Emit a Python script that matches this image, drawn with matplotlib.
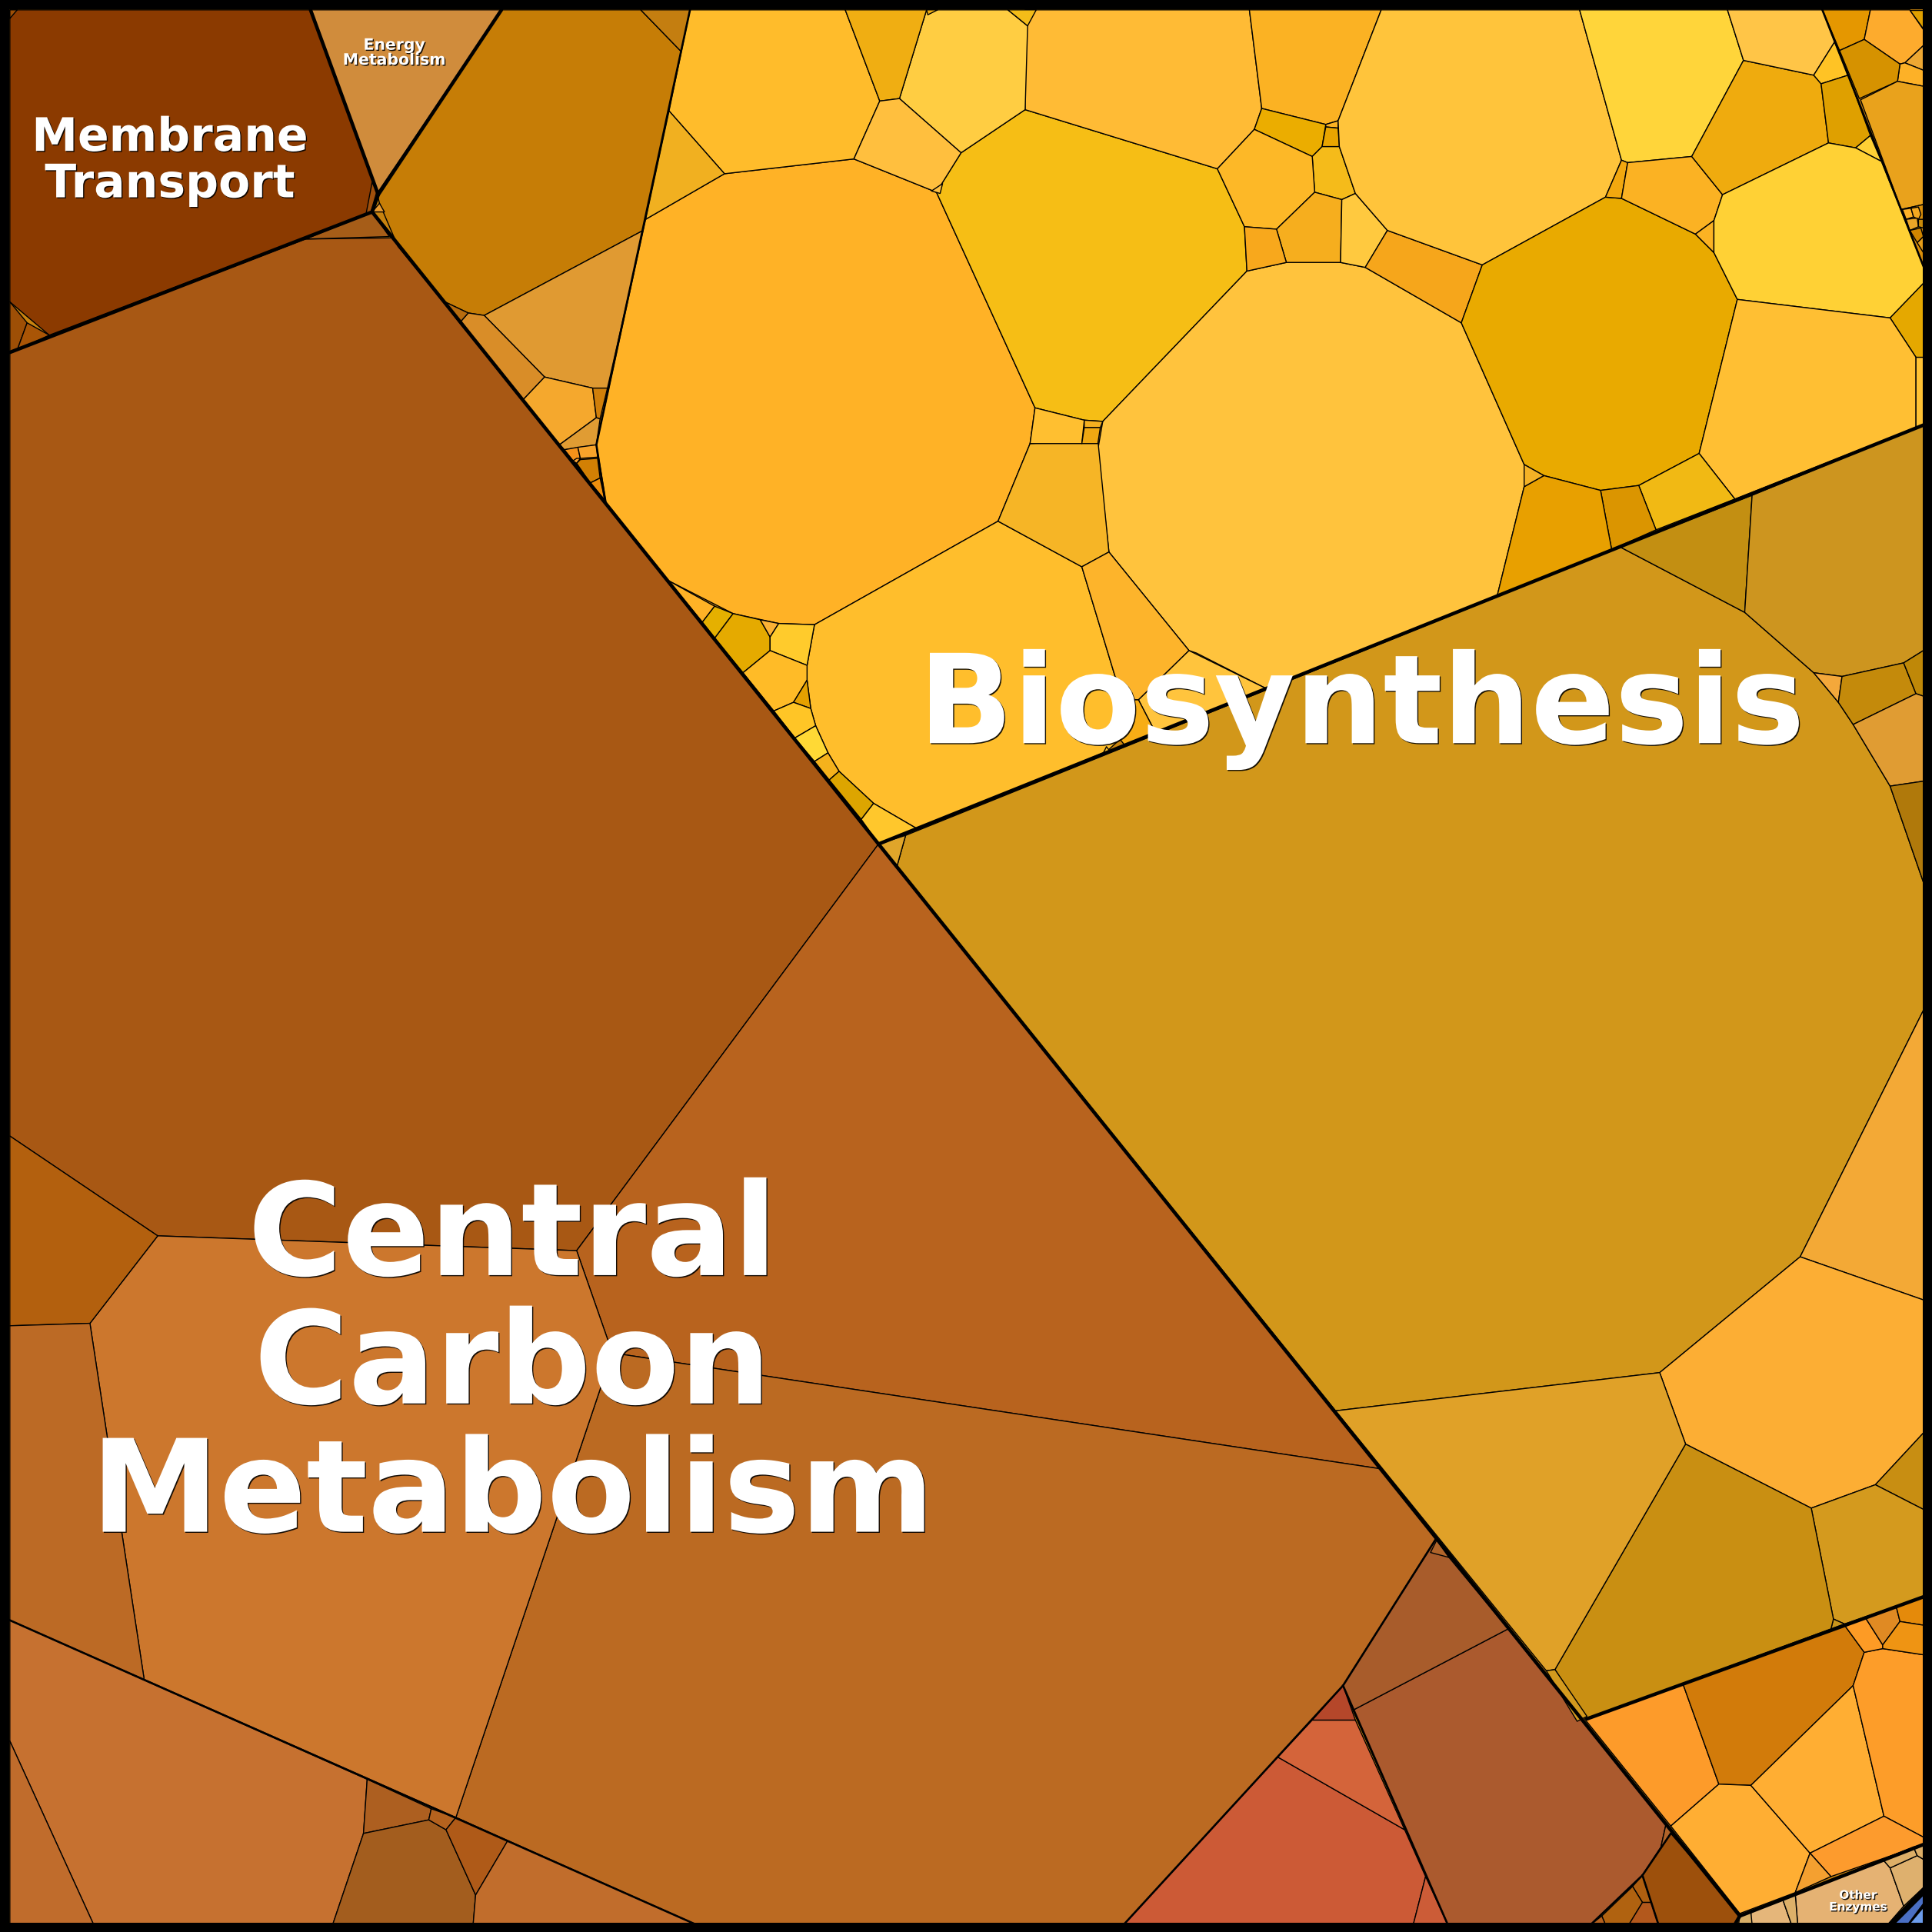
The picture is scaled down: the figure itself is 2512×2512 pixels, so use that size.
import matplotlib
matplotlib.use("Agg")
import matplotlib.pyplot as plt
import matplotlib.patheffects as pe
from matplotlib.patches import Rectangle

# cell outlines of the voronoi treemap (1568 unit square)
membrane_cells = [
    [(8,8),(252,8),(307,158),(302,172),(40,272),(8,245)],
    [(8,245),(22,262),(14,284),(8,286)],
    [(22,262),(40,272),(14,284)],
    [(302,148),(306,155),(301,172),(297,174)],
    [(8,8),(14,8),(8,15)],
]
membrane_colors = ["#8B3A00", "#9E4F06", "#A95506", "#A0500C", "#9E4F06"]

energy_cells = [[(252,8),(407,8),(307,158)]]
energy_colors = ["#D08C3C"]

central_cells = [
    [(8,286),(248,194),(322,193),(713,685),(468,1015),(128,1003),(8,922)],
    [(248,194),(302,172),(316,192)],
    [(713,685),(1120,1192),(497,1098),(468,1015)],
    [(497,1098),(1120,1192),(1166,1248),(1090,1368),(912,1562),(565,1562),(370,1475)],
    [(128,1003),(468,1015),(497,1098),(370,1475),(117,1363),(73,1074)],
    [(8,922),(128,1003),(73,1074),(8,1076)],
    [(8,1076),(73,1074),(117,1363),(8,1315)],
    [(8,1315),(298,1444),(295,1488),(270,1562),(76,1562),(8,1413)],
    [(8,1413),(76,1562),(8,1562)],
    [(298,1444),(350,1468),(348,1477),(295,1488)],
    [(295,1488),(348,1477),(362,1485),(386,1538),(384,1562),(270,1562)],
    [(350,1468),(370,1475),(362,1485),(348,1477)],
    [(370,1475),(412,1494),(386,1538),(362,1485)],
    [(412,1494),(565,1562),(384,1562),(386,1538)],
]
central_colors = ["#A85814", "#A65D18", "#B8631E", "#BB6A22", "#CC772D", "#B3600E", "#BC6A25",
                  "#C67130", "#C06C2C", "#AD5F20", "#A35D1E", "#B5621E", "#AF5A18", "#C16D2C"]

red_cells = [
    [(1037,1426),(1140,1485),(1157,1523),(1147,1562),(912,1562)],
    [(1065,1396),(1100,1396),(1140,1485),(1037,1426)],
    [(1090,1368),(1100,1396),(1065,1396)],
    [(1157,1523),(1175,1562),(1147,1562)],
    [(1098,1388),(1224,1322),(1352,1481),(1348,1499),(1333,1522),(1291,1562),(1175,1562)],
    [(1166,1248),(1176,1264),(1224,1322),(1098,1388),(1090,1368)],
    [(1166,1250),(1176,1264),(1161,1260)],
    [(1352,1481),(1358,1488),(1348,1499)],
    [(1356,1488),(1412,1553),(1409,1562),(1346,1562),(1333,1522)],
    [(1325,1531),(1333,1522),(1340,1544),(1333,1544)],
    [(1300,1555),(1325,1531),(1333,1544),(1322,1562),(1303,1562)],
    [(1333,1544),(1340,1544),(1346,1562),(1322,1562)],
    [(1291,1562),(1300,1555),(1303,1562)],
]
red_colors = ["#CC5A36", "#D4643A", "#B5472A", "#CC5C37", "#AB5A2E", "#A85C2B", "#B0642A", "#B0642A",
              "#9D500C", "#B05F10", "#B06210", "#B3581C", "#B3601E"]

orange_cells = [
    [(1286,1395),(1366,1367),(1395,1448),(1356,1482)],
    [(1366,1367),(1497,1319),(1513,1341),(1504,1368),(1421,1449),(1395,1448)],
    [(1395,1448),(1421,1449),(1469,1504),(1457,1536),(1412,1553),(1356,1482)],
    [(1421,1449),(1504,1368),(1529,1474),(1469,1504)],
    [(1504,1368),(1513,1341),(1528,1338),(1561,1343),(1561,1491),(1529,1474)],
    [(1469,1504),(1529,1474),(1561,1491),(1561,1497),(1486,1523)],
    [(1469,1504),(1486,1523),(1457,1536)],
    [(1497,1319),(1514,1313),(1528,1335),(1528,1338),(1513,1341)],
    [(1514,1313),(1539,1304),(1542,1316),(1528,1335)],
    [(1539,1304),(1561,1296),(1561,1319),(1542,1316)],
    [(1542,1316),(1561,1319),(1561,1343),(1528,1338),(1528,1335)],
]
orange_colors = ["#FD9B2A", "#D27B0A", "#FFAE33", "#FFAE33", "#FD9D29", "#FD9B2D", "#F4A030",
                 "#FD9B25", "#E08A23", "#E58A0A", "#EF9413"]

other_cells = [
    [(1457,1537),(1528,1509),(1534,1516),(1545,1547),(1532,1562),(1459,1562)],
    [(1534,1516),(1556,1506),(1561,1509),(1561,1532),(1545,1547)],
    [(1528,1509),(1553,1499),(1556,1506),(1534,1516)],
    [(1553,1499),(1561,1497),(1561,1509),(1556,1506)],
    [(1421,1552),(1447,1542),(1454,1562),(1421,1562)],
    [(1447,1542),(1457,1537),(1459,1562),(1454,1562)],
    [(1412,1555),(1421,1552),(1422,1562),(1411,1562)],
]
other_colors = ["#E5B273", "#DEB06E", "#DDAE67", "#DDAE67", "#E5B67A", "#DDB069", "#D8AE66"]

blue_cells = [
    [(1532,1562),(1561,1532),(1561,1562)],
    [(1538,1561),(1561,1538),(1561,1545),(1549,1561)],
    [(1550,1561),(1561,1548),(1561,1561)],
]
blue_colors = ["#000000", "#4A6FC4", "#6C9CEB"]

gold_cells = [
    [(735,678),(1315,444),(1416,497),(1472,546),(1492,570),(1504,588),(1534,638),(1561,716),
     (1561,820),(1461,1020),(1347,1114),(1084,1145),(728,703)],
    [(713,685),(735,678),(728,703)],
    [(1315,444),(1422,402),(1416,497)],
    [(1416,497),(1422,402),(1561,345),(1561,528),(1545,538),(1495,549),(1472,546)],
    [(1472,546),(1495,549),(1492,570)],
    [(1495,549),(1545,538),(1555,563),(1504,588),(1492,570)],
    [(1545,538),(1561,528),(1561,565),(1555,563)],
    [(1555,563),(1561,565),(1561,634),(1534,638),(1504,588)],
    [(1534,638),(1561,634),(1561,716)],
    [(1561,820),(1561,1055),(1461,1020)],
    [(1461,1020),(1561,1055),(1561,1163),(1522,1205),(1470,1224),(1368,1172),(1347,1114)],
    [(1522,1205),(1561,1163),(1561,1225)],
    [(1470,1224),(1522,1205),(1561,1225),(1561,1296),(1497,1318),(1488,1314)],
    [(1488,1314),(1497,1318),(1486,1322)],
    [(1368,1172),(1470,1224),(1488,1314),(1486,1322),(1288,1395),(1262,1355)],
    [(1084,1145),(1347,1114),(1368,1172),(1262,1355),(1255,1356)],
    [(1255,1356),(1262,1355),(1288,1393),(1280,1397)],
]
gold_colors = ["#D2971A", "#E0A52A", "#C38F12", "#CD951F", "#F4A83B", "#C48A0B", "#BF8808", "#E09C33",
               "#B0790B", "#F3A936", "#FCAE34", "#C88E12", "#D49A1E", "#C8941C", "#C98F12", "#E0A128", "#D49A1E"]

yellow_cells = [
    [(588,141),(693,129),(760,156),(840,331),(836,360),(810,423),(661,507),(632,506),(595,498),(542,471),(492,408),(484,361),(524,178)],
    [(760,156),(780,124),(832,89),(988,137),(1010,184),(1012,220),(895,342),(880,341),(840,331)],
    [(895,342),(1012,220),(1044,213),(1088,213),(1108,217),(1186,262),(1237,377),(1237,395),(1215,484),(1028,559),(971,530),(965,528),(900,448),(891,365)],
    [(661,507),(810,423),(878,460),(905,549),(921,568),(909,600),(898,610),(745,673),(709,652),(681,626),(672,611),(662,589),(658,575),(655,552),(655,540)],
    [(836,360),(891,357),(900,448),(878,460),(810,423)],
    [(878,460),(900,448),(965,528),(924,568),(921,568),(905,549)],
    [(965,528),(1028,559),(938,595),(924,568)],
    [(921,568),(924,568),(938,595),(913,605),(909,600)],
    [(840,331),(880,341),(878,360),(836,360)],
    [(880,341),(895,342),(893,347),(880,347)],
    [(880,347),(893,347),(891,360),(878,360)],
    [(832,8),(1014,8),(1024,88),(1018,105),(988,137),(832,89)],
    [(730,80),(752,8),(818,8),(834,21),(832,89),(780,124)],
    [(818,8),(841,8),(834,21)],
    [(1014,8),(1121,8),(1086,98),(1076,101),(1024,88)],
    [(1024,88),(1076,101),(1073,119),(1065,127),(1018,105)],
    [(1076,101),(1086,98),(1086,104),(1076,103)],
    [(1076,103),(1086,104),(1087,119),(1073,119)],
    [(1065,127),(1073,119),(1087,119),(1100,157),(1089,162),(1067,156)],
    [(1018,105),(1065,127),(1067,156),(1036,186),(1010,184),(988,137)],
    [(1067,156),(1089,162),(1088,213),(1044,213),(1036,186)],
    [(1010,184),(1036,186),(1044,213),(1012,220)],
    [(1089,162),(1100,157),(1126,187),(1108,217),(1088,213)],
    [(1126,187),(1203,215),(1186,262),(1108,217)],
    [(1121,8),(1282,8),(1316,130),(1303,160),(1203,215),(1126,187),(1100,157),(1087,119),(1086,98)],
    [(1282,8),(1402,8),(1415,49),(1373,127),(1321,132),(1316,130)],
    [(1186,262),(1203,215),(1303,160),(1316,161),(1376,190),(1391,205),(1410,243),(1379,368),(1330,394),(1299,398),(1253,386),(1237,377)],
    [(1316,130),(1321,132),(1316,161),(1303,160)],
    [(1321,132),(1373,127),(1398,158),(1391,179),(1376,190),(1316,161)],
    [(1376,190),(1391,179),(1391,205)],
    [(1373,127),(1415,49),(1472,61),(1478,68),(1484,116),(1398,158)],
    [(1402,8),(1479,8),(1489,34),(1472,61),(1415,49)],
    [(1489,34),(1472,61),(1478,68),(1500,61)],
    [(1478,68),(1500,61),(1518,110),(1506,120),(1484,116)],
    [(1518,110),(1527,131),(1506,120)],
    [(1484,116),(1506,120),(1527,131),(1561,216),(1561,230),(1534,258),(1410,243),(1391,205),(1391,179),(1398,158)],
    [(1561,230),(1561,290),(1555,290),(1534,258)],
    [(1410,243),(1534,258),(1555,290),(1555,347),(1408,405),(1379,368)],
    [(1555,290),(1561,290),(1561,345),(1555,347)],
    [(1330,394),(1379,368),(1408,405),(1344,430)],
    [(1299,398),(1330,394),(1344,430),(1308,446)],
    [(1237,395),(1253,386),(1299,398),(1308,446),(1215,484)],
    [(1237,377),(1253,386),(1237,395)],
    [(560,8),(686,8),(714,82),(693,129),(588,141),(543,90)],
    [(686,8),(752,8),(730,80),(714,82)],
    [(714,82),(730,80),(780,124),(760,156),(693,129)],
    [(543,90),(588,141),(524,178)],
    [(542,471),(580,492),(570,505)],
    [(580,492),(595,498),(580,518),(570,505)],
    [(595,498),(617,503),(625,517),(625,528),(603,546),(580,518)],
    [(617,503),(632,506),(625,517)],
    [(632,506),(661,507),(655,540),(625,528),(625,517)],
    [(625,528),(655,540),(655,552),(644,570),(628,577),(603,546)],
    [(655,552),(658,575),(644,570)],
    [(644,570),(658,575),(662,589),(645,599),(628,577)],
    [(662,589),(672,611),(661,618),(645,599)],
    [(672,611),(681,626),(673,633),(661,618)],
    [(681,626),(709,652),(699,665),(673,633)],
    [(709,652),(745,673),(713,685),(699,665)],
    [(752,8),(761,8),(753,12)],
    [(756,155),(765,149),(763,157)],
    [(898,606),(901,610),(895,612)],
]
yellow_colors = ["#FFB226", "#F6BE15", "#FFC33D", "#FFBE2C", "#F6B526", "#FDB42B", "#FFC43D", "#F7AD15",
                 "#FFBF30", "#F5B020", "#EFA812", "#FFBB35", "#FFCD42", "#F3BC18", "#FBB223", "#EBAD00",
                 "#FBB223", "#E9A500", "#F5BB1A", "#FDB827", "#F6AE1E", "#F8A81C", "#FFC93F", "#F6A61B",
                 "#FFC43B", "#FFD53A", "#E9AA00", "#F2A80F", "#FBB223", "#FBB223", "#EFAB0E", "#FFC547",
                 "#FFC325", "#DFA000", "#FFD035", "#FFD135", "#E5A800", "#FFBF33", "#FFC233", "#F1B914",
                 "#DB9500", "#E8A000", "#F4B226", "#FFBC2B", "#F0AE12", "#FFBF3E", "#F1B020",
                 "#FFB226", "#E5B000", "#E5AA00", "#FBB236", "#FFCB2C", "#FFBB27", "#E5A100", "#FFC526",
                 "#FFD935", "#F5B21C", "#DDA500", "#FFC72C", "#F0AE12", "#FFBF3E", "#FFC230"]

amber_cells = [
    [(407,8),(520,8),(553,42),(522,187),(393,256),(380,254),(359,244),(323,200),(308,165),(306,157)],
    [(520,8),(560,8),(553,42)],
    [(393,256),(522,187),(493,315),(481,315),(442,306)],
    [(380,254),(393,256),(442,306),(424,325),(373,262)],
    [(359,244),(380,254),(373,262)],
    [(302,172),(308,165),(312,172)],
    [(424,325),(442,306),(481,315),(484,339),(454,361)],
    [(481,315),(493,315),(487,340),(484,339)],
    [(454,361),(484,339),(487,340),(484,361),(458,365)],
    [(458,365),(469,363),(471,372),(465,374)],
    [(469,363),(484,361),(485,371),(471,372)],
    [(468,372),(471,372),(468,376),(465,374)],
    [(471,373),(485,372),(487,388),(479,392),(468,376)],
    [(479,392),(487,388),(491,406)],
]
amber_colors = ["#C67D06", "#C47E10", "#E09A32", "#D98D28", "#B76C0F", "#E89A30", "#F5A82D", "#D07F0A",
                "#E09C33", "#F5921A", "#F8A42B", "#F8A030", "#D28004", "#EE8F0E"]

corner_cells = [
    [(1479,8),(1518,8),(1513,32),(1493,41)],
    [(1518,8),(1550,8),(1561,24),(1561,37),(1546,51),(1542,52),(1513,32)],
    [(1550,8),(1561,8),(1561,24)],
    [(1546,51),(1561,37),(1561,57)],
    [(1542,52),(1546,51),(1561,57),(1561,70),(1540,66)],
    [(1493,41),(1513,32),(1542,52),(1540,66),(1509,80)],
    [(1510,81),(1540,66),(1561,70),(1561,166),(1543,170)],
    [(1543,170),(1561,166),(1561,216)],
    [(1544,170),(1551,169),(1553,176),(1547,178)],
    [(1551,169),(1557,168),(1559,174),(1557,178),(1553,176)],
    [(1547,178),(1556,177),(1557,184),(1550,187)],
    [(1550,187),(1559,185),(1561,192),(1556,197)],
    [(1556,197),(1561,192),(1561,205)],
    [(1557,178),(1561,178),(1561,185),(1557,184)],
]
corner_colors = ["#E59700", "#FDAB2D", "#DFA000", "#EDA733", "#FDB127", "#D69200", "#E9A21C", "#D98E0A",
                 "#FDB127", "#F3A820", "#EAA528", "#D08500", "#E59D1A", "#C88A0A"]

# heavier lines between the top level groups
thick_lines = [
    [(252,8),(307,158),(302,172),(8,286)],
    [(407,8),(307,158)],
    [(302,172),(713,685),(1412,1555)],
    [(713,685),(1561,345)],
    [(1288,1395),(1561,1296)],
    [(1412,1555),(1561,1497)],
    [(1412,1555),(1408,1562)],
]
medium_lines = [
    [(560,8),(484,361),(491,406)],
    [(1479,8),(1561,216)],
    [(8,1315),(565,1562)],
    [(1166,1248),(1090,1368),(912,1562)],
    [(1090,1368),(1175,1562)],
    [(1291,1562),(1333,1522),(1356,1488)],
    [(1333,1522),(1346,1562)],
]

labels = ["Biosynthesis", "Central\nCarbon\nMetabolism", "Membrane\nTransport", "Energy\nMetabolism", "Other\nEnzymes"]
label_x = [1105, 416, 138, 320, 1508]
label_y = [576, 1110, 131, 43, 1543]
label_size = [116, 120.5, 43.2, 14.7, 11]

fig = plt.figure(figsize=(25.12, 25.12), dpi=100, facecolor="black")
ax = fig.add_axes([0, 0, 1, 1])
ax.set_xlim(0, 1568)
ax.set_ylim(1568, 0)
ax.axis("off")

# backing so small gaps between cells do not show up black
ax.add_patch(Rectangle((0, 0), 1568, 1568, facecolor="#C8830F", edgecolor="none", zorder=0))

groups = [(membrane_cells, membrane_colors), (energy_cells, energy_colors), (central_cells, central_colors),
          (red_cells, red_colors), (orange_cells, orange_colors), (other_cells, other_colors),
          (blue_cells, blue_colors), (gold_cells, gold_colors), (amber_cells, amber_colors),
          (yellow_cells, yellow_colors), (corner_cells, corner_colors)]
for cells, colors in groups:
    for cell, color in zip(cells, colors):
        xs = [p[0] for p in cell]
        ys = [p[1] for p in cell]
        ax.fill(xs, ys, facecolor=color, edgecolor="black", linewidth=1.0, joinstyle="round", zorder=1)

for line in medium_lines:
    ax.plot([p[0] for p in line], [p[1] for p in line], color="black", linewidth=1.9, zorder=2)
for line in thick_lines:
    ax.plot([p[0] for p in line], [p[1] for p in line], color="black", linewidth=3.3, zorder=3,
            solid_capstyle="round")

ax.add_patch(Rectangle((0, 0), 1568, 1568, fill=False, edgecolor="black", linewidth=17.3, zorder=4))

for s, x, y, size in zip(labels, label_x, label_y, label_size):
    t = ax.text(x, y, s, ha="center", va="center", color="white", fontsize=size, fontweight="bold",
                linespacing=1.03, zorder=5)
    t.set_path_effects([pe.withSimplePatchShadow(offset=(1, -1), shadow_rgbFace="black", alpha=0.9)])

fig.savefig("out.png", dpi=100, facecolor="black")
